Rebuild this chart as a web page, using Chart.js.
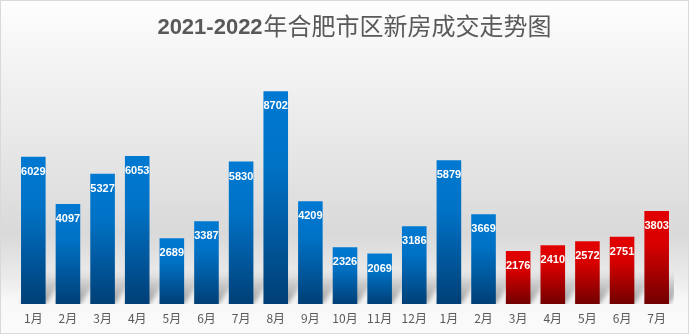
<!DOCTYPE html>
<html lang="zh-CN">
<head>
<meta charset="utf-8">
<title>2021-2022年合肥市区新房成交走势图</title>
<script src="https://cdn.jsdelivr.net/npm/chart.js@4/dist/chart.umd.min.js"></script>
<style>
  html, body { margin: 0; padding: 0; background: #ffffff; }
  #wrap { position: relative; width: 689px; height: 334px; }
</style>
</head>
<body>
<div id="wrap"><canvas id="hefei-chart" width="689" height="334"></canvas></div>
<script>
// Données : mois (2021-01 .. 2022-07) et surfaces vendues
const titleYears = "2021-2022";
const titleText = "年合肥市区新房成交走势图";
const months = ["1月", "2月", "3月", "4月", "5月", "6月", "7月", "8月", "9月", "10月", "11月", "12月",
                "1月", "2月", "3月", "4月", "5月", "6月", "7月"];
const deals = [6029, 4097, 5327, 6053, 2689, 3387, 5830, 8702, 4209, 2326, 2069, 3186,
               5879, 3669, 2176, 2410, 2572, 2751, 3803];
// à partir de cet index (2022年3月) les barres passent en rouge
const redFrom = 14;

// Dégradé vertical par barre (clair en haut, foncé en bas)
function barGradient(ctx) {
  const chart = ctx.chart;
  const red = ctx.dataIndex >= redFrom;
  if (ctx.type !== "data" || !chart.chartArea) return red ? "#d00000" : "#0072c6";
  const yScale = chart.scales.y;
  const top = yScale.getPixelForValue(ctx.raw);
  const bottom = yScale.getPixelForValue(0);
  const g = chart.ctx.createLinearGradient(0, top, 0, bottom);
  if (red) {
    g.addColorStop(0, "#e20000");
    g.addColorStop(0.35, "#d80000");
    g.addColorStop(1, "#720000");
  } else {
    g.addColorStop(0, "#0079d2");
    g.addColorStop(0.35, "#0072c6");
    g.addColorStop(1, "#003f76");
  }
  return g;
}

// Fond gris dégradé + bordure
const backdropPlugin = {
  id: "backdrop",
  beforeDraw(chart) {
    const c = chart.ctx;
    const h = chart.height;
    const g = c.createLinearGradient(0, 0, 0, h);
    g.addColorStop(0, "#fefefe");
    g.addColorStop(0.18, "#f4f4f4");
    g.addColorStop(0.5, "#e4e4e4");
    g.addColorStop(0.7, "#d9d9d9");
    g.addColorStop(0.84, "#ececec");
    g.addColorStop(0.9, "#f8f8f8");
    g.addColorStop(1, "#fbfbfb");
    c.save();
    c.fillStyle = g;
    c.fillRect(0, 0, chart.width, h);
    c.strokeStyle = "#d9d9d9";
    c.lineWidth = 1;
    c.strokeRect(0.5, 0.5, chart.width - 1, h - 1);
    c.restore();
  }
};

// Titre : chiffres en gras, caractères chinois en normal
const titlePlugin = {
  id: "mixedTitle",
  afterDraw(chart) {
    const c = chart.ctx;
    c.save();
    c.fillStyle = "#595959";
    c.textBaseline = "alphabetic";
    const f1 = "bold 22px 'Liberation Sans', Arial, sans-serif";
    const f2 = "24px 'Noto Sans CJK SC', sans-serif";
    c.font = f1;
    const w1 = c.measureText(titleYears).width;
    c.font = f2;
    const w2 = c.measureText(titleText).width;
    const x0 = 354 - (w1 + w2) / 2;
    c.font = f1;
    c.fillText(titleYears, x0, 34);
    c.font = f2;
    c.fillText(titleText, x0 + w1 + 1, 35);
    c.restore();
  }
};

// Ombres portées derrière les barres (traînée diagonale vers le haut à droite)
const shadowPlugin = {
  id: "barShadows",
  beforeDatasetsDraw(chart) {
    const c = chart.ctx;
    const area = chart.chartArea;
    const meta = chart.getDatasetMeta(0);
    c.save();
    c.beginPath();
    c.rect(area.left, area.top, area.right - area.left, area.bottom - area.top);
    c.clip();
    c.filter = "blur(2.5px)";
    meta.data.forEach(function(bar) {
      const left = bar.x - bar.width / 2;
      const right = bar.x + bar.width / 2;
      const base = bar.base;
      const g = c.createLinearGradient(0, base, 0, base - 32);
      g.addColorStop(0, "rgba(80,80,80,0.6)");
      g.addColorStop(0.6, "rgba(110,110,110,0.3)");
      g.addColorStop(1, "rgba(130,130,130,0)");
      c.fillStyle = g;
      c.beginPath();
      c.moveTo(left, base);
      c.lineTo(right, base);
      c.lineTo(right + 22, base - 32);
      c.lineTo(left + 22, base - 32);
      c.closePath();
      c.fill();
    });
    c.restore();
  }
};

// Valeurs en blanc dans le haut des barres
const valuePlugin = {
  id: "barValues",
  afterDatasetsDraw(chart) {
    const c = chart.ctx;
    const meta = chart.getDatasetMeta(0);
    c.save();
    c.fillStyle = "#ffffff";
    c.font = "bold 11px 'Liberation Sans', Arial, sans-serif";
    c.textAlign = "center";
    c.textBaseline = "middle";
    meta.data.forEach(function(bar, i) {
      c.fillText(String(deals[i]), bar.x, bar.y + 15);
    });
    c.restore();
  }
};

const chart = new Chart(document.getElementById("hefei-chart"), {
  type: "bar",
  data: {
    labels: months,
    datasets: [{
      label: "成交套数",
      data: deals,
      backgroundColor: barGradient,
      borderWidth: 0,
      categoryPercentage: 1,
      barPercentage: 0.71
    }]
  },
  options: {
    responsive: false,
    animation: false,
    layout: { padding: { left: 16, right: 15, top: 59.5, bottom: 1.5 } },
    plugins: {
      legend: { display: false },
      title: { display: false },
      tooltip: { enabled: false }
    },
    scales: {
      x: {
        grid: { display: false, drawTicks: false, tickLength: 0 },
        border: { display: false },
        ticks: {
          padding: 7,
          color: "#595959",
          font: { size: 12, family: "'Noto Sans CJK SC', sans-serif" },
          maxRotation: 0,
          autoSkip: false
        }
      },
      y: {
        display: false,
        min: 0,
        max: 10000
      }
    }
  },
  plugins: [backdropPlugin, shadowPlugin, valuePlugin, titlePlugin]
});
</script>
</body>
</html>
